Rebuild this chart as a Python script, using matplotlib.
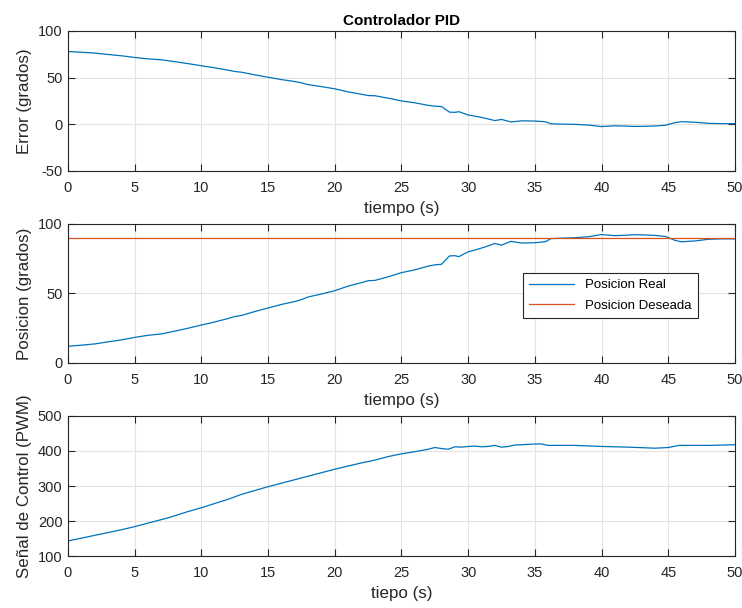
import matplotlib
matplotlib.use("Agg")
import matplotlib.pyplot as plt
import numpy as np

plt.rcParams['font.family'] = ['Liberation Sans', 'DejaVu Sans']
plt.rcParams['axes.unicode_minus'] = False

# --- data ---
t_pos = [0, 1, 2, 3, 4, 5, 6, 7, 8, 9, 10, 11, 12, 12.5, 13, 14, 15, 16, 17, 17.5, 18, 19,
         20, 21, 22, 22.5, 23, 24, 25, 25.5, 26, 27, 27.5, 28, 28.3, 28.6, 29, 29.3, 29.7,
         30, 30.7, 31.3, 32, 32.5, 33.2, 34, 35, 35.8, 36.2, 37, 38, 39, 39.5, 40, 41,
         42, 42.5, 43, 44, 44.8, 45.5, 46, 47, 48, 49, 50]
posicion = [12.0, 12.8, 13.7, 15.2, 16.6, 18.4, 19.9, 20.9, 22.9, 25.0, 27.3, 29.5, 32.0,
            33.4, 34.2, 37.0, 39.6, 42.1, 44.2, 45.6, 47.5, 49.6, 52.0, 55.3, 57.8, 59.2,
            59.4, 62.0, 65.0, 66.0, 67.0, 69.7, 70.6, 71.0, 74.0, 77.0, 77.2, 76.5, 78.5,
            80.0, 81.8, 83.6, 86.0, 84.8, 87.5, 86.3, 86.5, 87.3, 89.5, 89.8, 90.1, 90.8,
            91.6, 92.4, 91.6, 92.0, 92.3, 92.2, 91.8, 91.0, 88.2, 87.2, 87.8, 89.0, 89.3,
            89.3]
deseada = 90.0

t_ctrl = [0, 1, 2, 3, 4, 5, 6, 7, 7.5, 8, 9, 10, 11, 12, 12.5, 13, 14, 15, 16, 17, 17.5,
          18, 19, 20, 21, 22, 22.5, 23, 24, 25, 26, 27, 27.5, 28, 28.5, 29, 29.5, 30,
          30.5, 31, 31.5, 32, 32.5, 33, 33.5, 34, 35, 35.5, 36, 38, 40, 42, 44, 45,
          45.8, 47, 48, 50]
control = [143, 151, 159, 167, 175, 184, 194, 204, 209, 215, 227, 238, 250, 262, 269,
           276, 287, 298, 308, 318, 323, 328, 338, 348, 357, 366, 370, 374, 384, 392,
           398, 405, 410, 407, 405, 412, 411, 413, 414, 412, 413, 416, 411, 413, 417,
           418, 420, 420, 416, 416, 413, 411, 408, 410, 416, 416, 416, 418]

xticks = [0, 5, 10, 15, 20, 25, 30, 35, 40, 45, 50]

blue = '#0072BD'
orange = '#D95319'
axcol = '#262626'

fig = plt.figure(figsize=(7.42, 6.08), dpi=100)

def style(ax, ylim, yticks):
    ax.set_xlim(0, 50)
    ax.set_ylim(*ylim)
    ax.set_xticks(xticks)
    ax.set_yticks(yticks)
    ax.grid(True, color='#e3e3e3', linewidth=0.8)
    ax.set_axisbelow(True)
    ax.tick_params(direction='in', top=True, right=True, length=5, width=0.8,
                   colors=axcol, labelsize=10.5)
    ax.tick_params(axis='x', pad=7)
    ax.tick_params(axis='y', pad=4)
    for s in ax.spines.values():
        s.set_color(axcol)
        s.set_linewidth(0.8)

lab_fs = 12.2

# Top: error
ax1 = fig.add_axes([0.0916, 0.7188, 0.899, 0.2303])
err = [deseada - p for p in posicion]
ax1.plot(t_pos, err, color=blue, lw=0.9)
style(ax1, (-50, 100), [-50, 0, 50, 100])
ax1.set_title('Controlador PID', fontsize=11, fontweight='bold', pad=4, color='black')
ax1.set_xlabel('tiempo (s)', fontsize=lab_fs, labelpad=4.5, color=axcol)
ax1.set_ylabel('Error (grados)', fontsize=lab_fs, labelpad=4, color=axcol)

# Middle: position
ax2 = fig.add_axes([0.0916, 0.4030, 0.899, 0.2286])
ax2.plot(t_pos, posicion, color=blue, lw=0.9, label='Posicion Real')
ax2.plot([0, 50], [deseada, deseada], color=orange, lw=0.9, label='Posicion Deseada')
style(ax2, (0, 100), [0, 50, 100])
ax2.set_xlabel('tiempo (s)', fontsize=lab_fs, labelpad=4.5, color=axcol)
ax2.set_ylabel('Posicion (grados)', fontsize=lab_fs, labelpad=4, color=axcol)
leg = ax2.legend(loc='center', bbox_to_anchor=(0.813, 0.486), fontsize=9.5,
                 fancybox=False, framealpha=1, edgecolor=axcol, handlelength=3.4,
                 borderpad=0.5, labelspacing=0.6)
leg.get_frame().set_linewidth(0.8)

# Bottom: control signal
ax3 = fig.add_axes([0.0916, 0.0855, 0.899, 0.2303])
ax3.plot(t_ctrl, control, color=blue, lw=0.9)
style(ax3, (100, 500), [100, 200, 300, 400, 500])
ax3.set_xlabel('tiepo (s)', fontsize=lab_fs, labelpad=4.5, color=axcol)
ax3.set_ylabel('Señal de Control (PWM)', fontsize=lab_fs, labelpad=4, color=axcol)

fig.savefig('out.png', dpi=100)
